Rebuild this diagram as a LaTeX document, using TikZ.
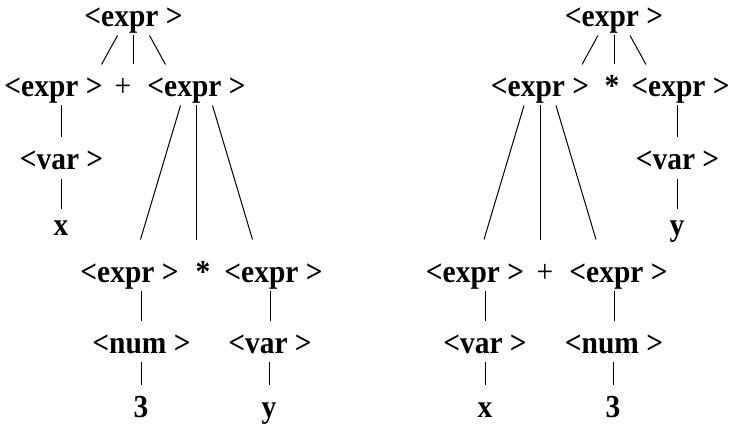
\documentclass[tikz,border=0pt]{standalone}
\usepackage{fontspec}
\setmainfont{Liberation Serif}[FakeStretch=0.92]
\begin{document}
\begin{tikzpicture}[x=1pt,y=-1pt,line width=1pt,
    tok/.style={anchor=base,inner sep=0pt,text height=32pt,text depth=8pt,
      font=\fontsize{32}{36}\selectfont\bfseries},
    leaf/.style={tok,text height=26pt},
    op/.style={tok,font=\fontsize{32}{36}\selectfont}]
  \useasboundingbox (0,0) rectangle (731,425);
  % escala: 1 px = 1 pt, y para baixo
  % arvore da esquerda: x + (3 * y)
  \foreach \n/\x/\y/\t in {rootL/133.5/27/{<expr >}, e2a/53.5/97/{<expr >},
      e2b/196.5/97/{<expr >}, var1/61.5/170/{<var >}, e3a/129.5/282/{<expr >},
      starL/203/282/{*}, e3b/273.5/282/{<expr >}, num1/141.5/353/{<num >},
      var2/270/353/{<var >}, threeL/141/417/{3}, yL/269/417/{y}}
    \node[tok] (\n) at (\x,\y) {\t};
  \node[op] (plusL) at (123,97) {+};
  \node[leaf] (x1) at (61,235) {x};
  % arvore da direita: (x + 3) * y
  \foreach \n/\x/\y/\t in {rootR/614/27/{<expr >}, e2c/540/97/{<expr >},
      starR/612/97/{*}, e2d/680.5/97/{<expr >}, var3/677.5/170/{<var >},
      e3c/475/282/{<expr >}, e3d/618.5/282/{<expr >}, var4/485/353/{<var >},
      num2/614/353/{<num >}, xR/485/417/{x}, threeR/613/417/{3}}
    \node[tok] (\n) at (\x,\y) {\t};
  \node[op] (plusR) at (545,282) {+};
  \node[leaf] (yR) at (677,235) {y};
  % ramos de tres filhos
  \foreach \p/\c/\a/\b/\h in {rootL/e2a/16/32/0, rootR/e2c/16/32/0,
      e2b/e3a/16/56/10, e2c/e3c/16/56/10}{
    \draw ([xshift=-\a]\p.south) -- ([xshift=-\b,yshift=\h]\p.south |- \c.north);
    \draw (\p.south) -- ([yshift=\h]\p.south |- \c.north);
    \draw ([xshift=\a]\p.south) -- ([xshift=\b,yshift=\h]\p.south |- \c.north);
  }
  % ramos simples
  \foreach \p/\c in {e2a/var1, var1/x1, e3a/num1, num1/threeL, e3b/var2, var2/yL,
      e2d/var3, var3/yR, e3c/var4, var4/xR, e3d/num2, num2/threeR}
    \draw (\c |- \p.south) -- (\c.north);
\end{tikzpicture}
\end{document}
